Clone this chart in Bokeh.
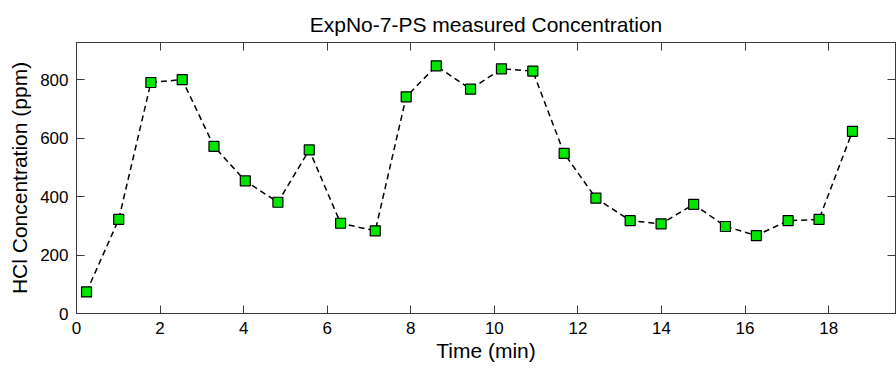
from bokeh.plotting import figure
from bokeh.models import LinearAxis, Range1d, FixedTicker
from bokeh.embed import file_html
from bokeh.resources import INLINE

# Data
time_min = [0.24, 1.01, 1.78, 2.53, 3.29, 4.04, 4.82, 5.57, 6.32, 7.15, 7.89, 8.61, 9.43,
            10.17, 10.92, 11.67, 12.43, 13.25, 13.99, 14.77, 15.53, 16.27, 17.03, 17.77, 18.57]
hcl_ppm = [74, 322, 791, 801, 572, 454, 381, 560, 309, 283, 742, 848, 768,
           838, 830, 548, 395, 318, 307, 374, 298, 267, 318, 322, 624]
x_ticks = [0, 2, 4, 6, 8, 10, 12, 14, 16, 18]
y_ticks = [0, 200, 400, 600, 800]

FONT = "Liberation Sans"
AX = "#3a3a3a"

p = figure(width=896, height=371, output_backend="svg", toolbar_location=None,
           x_range=Range1d(0, 19.6), y_range=Range1d(0, 928),
           x_axis_type=None, y_axis_type=None,
           title="ExpNo-7-PS measured Concentration",
           min_border_left=76, min_border_right=1, min_border_top=42, min_border_bottom=58)

p.title.text_font = FONT
p.title.text_font_size = "21px"
p.title.text_font_style = "normal"
p.title.text_color = "black"
p.title.align = "center"
p.title.standoff = 13

p.outline_line_color = AX
p.outline_line_width = 1
p.xgrid.visible = False
p.ygrid.visible = False
p.background_fill_color = "white"
p.border_fill_color = "white"


def style_axis(ax, ticks, labels=True):
    ax.ticker = FixedTicker(ticks=ticks)
    ax.axis_line_color = AX
    ax.major_tick_line_color = AX
    ax.major_tick_in = 8
    ax.major_tick_out = 0
    ax.minor_tick_line_color = None
    ax.major_label_text_font = FONT
    ax.major_label_text_font_size = "17px"
    ax.major_label_text_color = "black" if labels else None
    ax.major_label_standoff = 8 if labels else 0
    ax.axis_label_text_font = FONT
    ax.axis_label_text_font_size = "21px"
    ax.axis_label_text_font_style = "normal"
    ax.axis_label_text_color = "black"


xb = LinearAxis(axis_label="Time (min)")
style_axis(xb, x_ticks)
xb.axis_label_standoff = 2
p.add_layout(xb, "below")

yl = LinearAxis(axis_label="HCl Concentration (ppm)")
style_axis(yl, y_ticks)
yl.axis_label_standoff = 6
p.add_layout(yl, "left")

xt = LinearAxis()
style_axis(xt, x_ticks, labels=False)
p.add_layout(xt, "above")

yr = LinearAxis()
style_axis(yr, y_ticks, labels=False)
p.add_layout(yr, "right")

p.line(time_min, hcl_ppm, line_color="black", line_width=1.5, line_dash="6 4")
p.scatter(time_min, hcl_ppm, marker="square", size=10, fill_color="#00e600",
          line_color="black", line_width=1.2)

open("out.html", "w").write(file_html(p, INLINE))
